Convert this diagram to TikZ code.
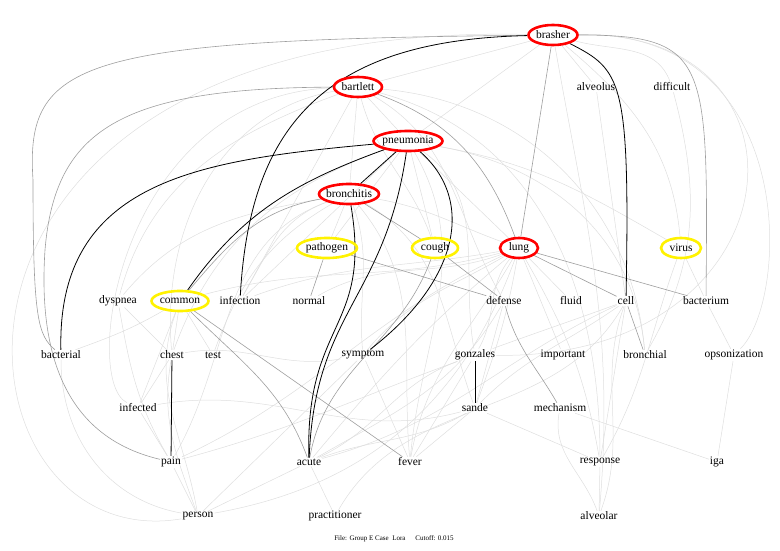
\documentclass[tikz,border=0pt]{standalone}
\usepackage{fontspec}
\setmainfont{Liberation Serif}
\usetikzlibrary{shapes.geometric}
\pgfdeclarelayer{edges}
\pgfsetlayers{edges,main}
\begin{document}
\begin{tikzpicture}[x=1pt,y=-1pt]
	\tikzstyle{term}=[font=\fontsize{11.5}{13}\selectfont, inner sep=1pt]
	\tikzstyle{hub}=[term, ellipse, line width=2.6pt, inner xsep=-30pt, inner ysep=-30pt, minimum height=20pt]
	\tikzstyle{redhub}=[hub, draw=red]
	\tikzstyle{yellowhub}=[hub, draw=yellow]
	\tikzstyle{faint}=[draw=black!13, line width=0.5pt]
	\tikzstyle{mid}=[draw=black!38, line width=0.6pt]
	\tikzstyle{strong}=[draw=black, line width=0.8pt]
	\useasboundingbox (0,0) rectangle (780,551);
	\node [redhub, minimum width=49pt] (brasher) at (553,35) {brasher};
	\node [term] (alveolus) at (596,87) {alveolus};
	\node [term] (difficult) at (672,87) {difficult};
	\node [redhub, minimum width=48pt] (bartlett) at (358,87) {bartlett};
	\node [redhub, minimum width=69pt] (pneumonia) at (408,141) {pneumonia};
	\node [redhub, minimum width=60pt] (bronchitis) at (349,194) {bronchitis};
	\node [yellowhub, minimum width=60pt] (pathogen) at (327,248) {pathogen};
	\node [yellowhub, minimum width=46pt] (cough) at (435,248) {cough};
	\node [redhub, minimum width=38pt] (lung) at (519,248) {lung};
	\node [yellowhub, minimum width=40pt] (virus) at (681,248) {virus};
	\node [term] (dyspnea) at (118,301) {dyspnea};
	\node [yellowhub, minimum width=57pt] (common) at (180,301) {common};
	\node [term] (infection) at (240,301) {infection};
	\node [term] (normal) at (309,301) {normal};
	\node [term] (defense) at (504,301) {defense};
	\node [term] (fluid) at (571,301) {fluid};
	\node [term] (cell) at (626,301) {cell};
	\node [term] (bacterium) at (706,301) {bacterium};
	\node [term] (bacterial) at (61,355) {bacterial};
	\node [term] (chest) at (172,355) {chest};
	\node [term] (test) at (213,355) {test};
	\node [term] (symptom) at (363,355) {symptom};
	\node [term] (gonzales) at (475,355) {gonzales};
	\node [term] (important) at (563,355) {important};
	\node [term] (bronchial) at (645,355) {bronchial};
	\node [term] (opsonization) at (734,355) {opsonization};
	\node [term] (infected) at (138,408) {infected};
	\node [term] (sande) at (475,408) {sande};
	\node [term] (mechanism) at (560,408) {mechanism};
	\node [term] (pain) at (171,462) {pain};
	\node [term] (acute) at (309,462) {acute};
	\node [term] (fever) at (410,462) {fever};
	\node [term] (response) at (600,462) {response};
	\node [term] (iga) at (717,462) {iga};
	\node [term] (person) at (198,516) {person};
	\node [term] (practitioner) at (335,516) {practitioner};
	\node [term] (alveolar) at (599,516) {alveolar};
	\node [font=\fontsize{7}{8}\selectfont] (footer) at (394,539) {File: Group E Case\ \ Lora\hspace{10pt}Cutoff: 0.015};
	\begin{pgfonlayer}{edges}
		\path[faint] (brasher) edge (alveolus) edge[out=-15,in=110] (difficult) edge (bartlett) edge (pneumonia)
			edge[out=-80,in=85] (alveolar) edge[out=-40,in=95] (virus);
		\draw[faint] (brasher) .. controls (800,30) and (790,300) .. (opsonization);
		\draw[faint] (brasher) .. controls (830,30) and (800,360) .. (gonzales);
		\draw[faint] (brasher) .. controls (-120,20) and (-60,560) .. (person);
		\draw[faint] (bartlett) .. controls (120,95) and (80,380) .. (infected);
		\path[faint] (bartlett) edge (pneumonia) edge (bronchitis) edge[out=-75,in=110] (cough) edge (infection)
			edge[out=200,in=75] (dyspnea) edge[out=190,in=95] (chest) edge[out=-30,in=120] (defense)
			edge[out=-5,in=95] (bronchial) edge[out=-15,in=90] (response);
		\path[faint] (pneumonia) edge (cough) edge (lung) edge[out=-10,in=150] (virus) edge (infection) edge (pathogen)
			edge[out=-60,in=85] (fever) edge[out=-35,in=100] (gonzales) edge[out=-10,in=95] (bronchial)
			edge[out=200,in=70] (chest);
		\path[faint] (bronchitis) edge (pathogen) edge[out=200,in=60] (infection) edge[out=190,in=50] (dyspnea)
			edge[out=-70,in=95] (symptom) edge[out=-50,in=95] (fever) edge[out=-10,in=160] (lung)
			edge[out=-30,in=110] (sande) edge[out=210,in=70] (test) edge[out=200,in=60] (pain);
		\path[faint] (lung) edge (fluid) edge (important) edge[out=190,in=20] (infection) edge[out=195,in=15] (common)
			edge[out=200,in=30] (normal) edge[out=210,in=50] (symptom) edge[out=220,in=50] (acute)
			edge[out=-120,in=80] (fever) edge[out=-130,in=60] (gonzales) edge[out=-100,in=70] (sande)
			edge[out=-60,in=100] (response) edge[out=205,in=25] (pain);
		\path[faint] (cell) edge[out=200,in=20] (gonzales) edge[out=215,in=45] (sande) edge[out=205,in=15] (acute)
			edge (response) edge[out=-110,in=70] (alveolar);
		\path[faint] (virus) edge (bacterium) edge[out=-110,in=60] (response);
		\path[faint] (bacterium) edge (opsonization);
		\path[faint] (difficult) edge[out=-75,in=60] (bronchial);
		\path[faint] (alveolus) edge (cell);
		\path[faint] (common) edge (chest) edge (test) edge[out=210,in=20] (bacterial) edge (infected)
			edge[out=-110,in=100] (person);
		\path[faint] (dyspnea) edge (chest) edge[out=-80,in=120] (pain);
		\path[faint] (chest) edge (infected) edge[out=-100,in=110] (person) edge[out=10,in=190] (symptom);
		\path[faint] (infected) edge (pain) edge[out=10,in=195] (sande);
		\path[faint] (bacterial) edge[out=-90,in=170] (person);
		\path[faint] (pain) edge (person) edge[out=15,in=200] (gonzales);
		\path[faint] (acute) edge (person) edge (practitioner) edge[out=20,in=210] (sande) edge[out=25,in=200] (gonzales);
		\path[faint] (fever) edge (sande) edge (gonzales) edge (symptom);
		\path[faint] (defense) edge (sande) edge[out=-120,in=30] (acute);
		\path[faint] (symptom) edge (person);
		\path[faint] (sande) edge (response);
		\path[faint] (mechanism) edge (iga) edge[out=-100,in=110] (alveolar);
		\path[faint] (response) edge (alveolar);
		\path[faint] (iga) edge (opsonization);
		\path[faint] (person) edge[out=10,in=-110] (lung);
		\path[faint] (practitioner) edge[out=60,in=-120] (cell);
		\path[mid] (brasher) edge (lung);
		\draw[mid] (brasher) .. controls (710,35) and (708,60) .. (bacterium);
		\draw[mid] (brasher) .. controls (80,40) and (25,60) .. (33,180) .. controls (33,320) and (38,335) .. (bacterial);
		\draw[mid] (bartlett) .. controls (120,88) and (55,130) .. (45,250) .. controls (35,400) and (100,445) .. (pain);
		\path[mid] (bartlett) edge[out=-20,in=110] (lung);
		\path[mid] (bronchitis) edge[out=190,in=50] (common) edge (cough);
		\path[mid] (common) edge[out=-45,in=110] (acute) edge (fever);
		\path[mid] (pathogen) edge (normal) edge (defense);
		\path[mid] (cough) edge (defense) edge[out=-110,in=80] (acute);
		\path[mid] (lung) edge (cell) edge (bacterium);
		\path[mid] (defense) edge[out=-75,in=120] (mechanism);
		\path[mid] (cell) edge (bronchial);
		\draw[strong] (brasher) .. controls (330,40) and (250,120) .. (infection);
		\draw[strong] (brasher) .. controls (622,70) and (630,80) .. (cell);
		\draw[strong] (pneumonia) .. controls (200,160) and (57,180) .. (bacterial);
		\path[strong] (pneumonia) edge[out=200,in=55] (common) edge (bronchitis);
		\draw[strong] (pneumonia) .. controls (385,300) and (315,310) .. (acute);
		\draw[strong] (bronchitis) .. controls (372,330) and (305,320) .. (acute);
		\draw[strong] (pneumonia) .. controls (475,200) and (460,280) .. (symptom);
		\path[strong] (chest) edge (pain);
		\path[strong] (gonzales) edge (sande);
	\end{pgfonlayer}
\end{tikzpicture}
\end{document}
